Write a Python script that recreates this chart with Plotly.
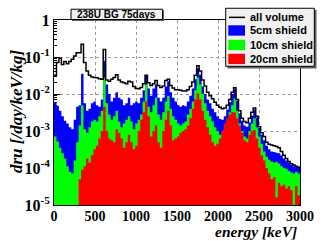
import plotly.graph_objects as go

# ---------------- data (30 keV bins, 0-3000 keV) ----------------
BIN_WIDTH = 30
energy_edges = [BIN_WIDTH * i for i in range(101)]

all_volume = [
    3.2e-2, 7.1e-2, 9.3e-2, 6.3e-2, 7.6e-2, 6.6e-2, 7.6e-2, 8.7e-2, 1.07e-1, 1.3e-1,
    1.3e-1, 2.2e-1, 7.1e-2, 4.2e-2, 3.2e-2, 2.9e-2, 2.8e-2, 2.75e-2, 2.6e-2, 2.5e-2,
    1.6e-1, 2.4e-2, 2.2e-2, 2.5e-2, 2.8e-2, 3.3e-2, 2.4e-2, 2.1e-2, 2.0e-2, 1.9e-2,
    2.2e-2, 2.1e-2, 1.6e-2, 1.4e-2, 1.38e-2, 1.5e-2, 1.9e-2, 3.2e-2, 2.0e-2, 1.7e-2,
    1.9e-2, 2.3e-2, 1.7e-2, 1.5e-2, 1.65e-2, 2.3e-2, 2.5e-2, 1.7e-2, 1.45e-2, 1.3e-2,
    1.3e-2, 1.26e-2, 1.2e-2, 1.2e-2, 1.3e-2, 1.6e-2, 2.1e-2, 3.2e-2, 5.8e-2, 4.2e-2,
    2.4e-2, 1.65e-2, 1.12e-2, 8.9e-3, 7.4e-3, 6.0e-3, 5.0e-3, 4.4e-3, 4.0e-3, 4.2e-3,
    5.0e-3, 7.1e-3, 1.12e-2, 1.48e-2, 7.1e-3, 3.5e-3, 2.2e-3, 1.8e-3, 1.66e-3, 2.2e-3,
    3.2e-3, 4.2e-3, 2.5e-3, 1.3e-3, 8.9e-4, 7.1e-4, 5.0e-4, 4.4e-4, 4.2e-4, 4.0e-4,
    3.8e-4, 3.5e-4, 2.8e-4, 2.2e-4, 1.8e-4, 1.5e-4, 1.3e-4, 1.2e-4, 1.12e-4, 1.05e-4,
]

shield_5cm = [
    6.0e-3, 4.8e-3, 3.5e-3, 2.5e-3, 1.9e-3, 1.6e-3, 1.26e-3, 1.12e-3, 2.0e-3, 4.5e-3,
    5.0e-3, 3.5e-2, 5.6e-3, 3.5e-3, 4.0e-3, 5.6e-3, 6.3e-3, 5.0e-3, 4.5e-3, 7.1e-3,
    7.9e-2, 1.8e-2, 1.0e-2, 6.3e-3, 7.9e-3, 1.12e-2, 7.9e-3, 7.1e-3, 5.0e-3, 5.6e-3,
    7.9e-3, 5.0e-3, 5.6e-3, 6.3e-3, 5.6e-3, 7.9e-3, 1.26e-2, 3.2e-2, 1.4e-2, 8.9e-3,
    1.4e-2, 1.8e-2, 7.9e-3, 6.3e-3, 7.9e-3, 1.6e-2, 2.2e-2, 1.12e-2, 7.9e-3, 6.3e-3,
    5.0e-3, 4.5e-3, 5.0e-3, 4.7e-3, 6.3e-3, 8.9e-3, 1.4e-2, 2.5e-2, 5.0e-2, 3.3e-2,
    1.6e-2, 1.0e-2, 7.1e-3, 5.6e-3, 4.0e-3, 3.2e-3, 2.5e-3, 2.1e-3, 2.0e-3, 2.5e-3,
    3.8e-3, 6.0e-3, 1.0e-2, 1.35e-2, 6.6e-3, 3.0e-3, 1.9e-3, 1.4e-3, 1.3e-3, 1.7e-3,
    2.6e-3, 3.8e-3, 2.3e-3, 1.2e-3, 7.9e-4, 5.6e-4, 4.0e-4, 3.2e-4, 2.8e-4, 2.7e-4,
    2.6e-4, 2.5e-4, 2.2e-4, 1.8e-4, 1.6e-4, 1.4e-4, 1.2e-4, 1.12e-4, 1.07e-4, 1.0e-4,
]

shield_10cm = [
    7.1e-4, 5.2e-4, 3.5e-4, 2.5e-4, 1.8e-4, 1.12e-4, 7.9e-5, 7.1e-5, 1.6e-4, 5.0e-4,
    1.4e-3, 5.0e-3, 1.12e-3, 8.9e-4, 1.26e-3, 1.8e-3, 2.0e-3, 1.8e-3, 2.5e-3, 3.5e-3,
    2.8e-2, 5.6e-3, 2.8e-3, 2.0e-3, 2.5e-3, 3.5e-3, 1.8e-3, 1.26e-3, 1.6e-3, 2.0e-3,
    2.5e-3, 1.8e-3, 1.12e-3, 1.6e-3, 2.0e-3, 2.8e-3, 6.3e-3, 1.8e-2, 4.5e-3, 3.2e-3,
    5.0e-3, 7.9e-3, 2.8e-3, 2.0e-3, 3.2e-3, 6.3e-3, 8.9e-3, 4.0e-3, 2.5e-3, 2.0e-3,
    1.6e-3, 1.4e-3, 1.6e-3, 1.8e-3, 2.8e-3, 4.0e-3, 6.3e-3, 1.26e-2, 2.8e-2, 1.8e-2,
    1.0e-2, 5.6e-3, 3.5e-3, 2.5e-3, 1.8e-3, 1.26e-3, 1.0e-3, 7.9e-4, 7.9e-4, 1.12e-3,
    1.8e-3, 3.2e-3, 5.0e-3, 7.6e-3, 3.5e-3, 1.6e-3, 1.0e-3, 7.1e-4, 6.3e-4, 1.0e-3,
    1.6e-3, 2.2e-3, 1.26e-3, 7.1e-4, 4.5e-4, 2.8e-4, 2.0e-4, 1.66e-4, 1.5e-4, 1.4e-4,
    1.48e-4, 1.32e-4, 1.12e-4, 1.0e-4, 9.5e-5, 8.3e-5, 7.6e-5, 7.1e-5, 7.9e-5, 7.1e-5,
]

shield_20cm = [
    0, 0, 0, 0, 0, 0, 0, 0, 0, 0,
    5.0e-5, 8.9e-5, 1.12e-4, 1.8e-4, 1.4e-4, 2.2e-4, 3.2e-4, 4.0e-4, 6.3e-4, 1.0e-3,
    4.5e-3, 1.0e-3, 6.3e-4, 5.6e-4, 5.0e-4, 1.12e-3, 8.9e-4, 6.3e-4, 3.5e-4, 5.0e-4,
    7.9e-4, 5.0e-4, 3.2e-4, 4.0e-4, 1.0e-3, 2.0e-3, 3.2e-3, 6.3e-3, 2.5e-3, 7.1e-4,
    1.0e-3, 1.4e-3, 5.0e-4, 3.5e-4, 1.0e-3, 2.0e-3, 3.5e-3, 1.4e-3, 5.6e-4, 6.3e-4,
    7.1e-4, 8.9e-4, 1.0e-3, 1.12e-3, 1.4e-3, 2.2e-3, 4.0e-3, 7.1e-3, 1.05e-2, 7.1e-3,
    3.5e-3, 2.0e-3, 1.26e-3, 7.9e-4, 5.0e-4, 4.0e-4, 4.5e-4, 6.3e-4, 1.0e-3, 1.6e-3,
    2.2e-3, 2.8e-3, 3.2e-3, 3.2e-3, 2.2e-3, 1.4e-3, 8.9e-4, 5.6e-4, 5.0e-4, 7.9e-4,
    1.0e-3, 1.07e-3, 6.3e-4, 3.5e-4, 2.2e-4, 1.6e-4, 1.0e-4, 7.1e-5, 5.0e-5, 5.6e-5,
    1.6e-5, 4.0e-5, 3.2e-5, 3.5e-5, 2.8e-5, 3.2e-5, 2.5e-5, 0, 3.2e-5, 1.8e-5,
]

y_tick_vals = [1e-5, 1e-4, 1e-3, 1e-2, 1e-1, 1]
y_tick_text = ["10<sup>-5</sup>", "10<sup>-4</sup>", "10<sup>-3</sup>",
               "10<sup>-2</sup>", "10<sup>-1</sup>", "1"]
x_tick_vals = [0, 500, 1000, 1500, 2000, 2500, 3000]

series = [
    ("5cm shield", shield_5cm, "#0000ff"),
    ("10cm shield", shield_10cm, "#00ff00"),
    ("20cm shield", shield_20cm, "#ff0000"),
]

FLOOR = 1e-7  # below the visible axis range, so the fill reaches the bottom


def step_polygon(edges, vals):
    xs, ys = [edges[0]], [FLOOR]
    for i, v in enumerate(vals):
        v = max(v, FLOOR)
        xs += [edges[i], edges[i + 1]]
        ys += [v, v]
    xs.append(edges[-1])
    ys.append(FLOOR)
    return xs, ys


fig = go.Figure()
for name, vals, color in series:
    xs, ys = step_polygon(energy_edges, vals)
    fig.add_trace(go.Scatter(x=xs, y=ys, mode="lines", fill="toself",
                             fillcolor=color, line=dict(width=0, color=color),
                             name=name, hoverinfo="skip"))

fig.add_trace(go.Scatter(x=energy_edges, y=all_volume + [all_volume[-1]],
                         mode="lines", line=dict(color="black", width=1.5, shape="hv"),
                         name="all volume"))

W, H = 327, 241
L, R, T, B = 54, 27, 16, 36
PW, PH = W - L - R, H - T - B


def px(x):
    return (x - L) / PW


def py(y):
    return (H - B - y) / PH


serif = "Liberation Serif, Times New Roman, serif"
sans = "Liberation Sans, Arial, sans-serif"

fig.update_layout(
    width=W, height=H, margin=dict(l=L, r=R, t=T, b=B),
    plot_bgcolor="white", paper_bgcolor="white", showlegend=False,
    xaxis=dict(range=[0, 3000], tickvals=x_tick_vals, ticks="inside", ticklen=6,
               tickcolor="black", showgrid=True, gridcolor="#9a9a9a", griddash="dot",
               gridwidth=1, showline=True, linecolor="black", linewidth=1, mirror=True,
               zeroline=False, layer="below traces", ticklabelstandoff=-2,
               tickfont=dict(family=serif, size=14, color="black", weight="bold"),
               minor=dict(ticks="inside", ticklen=3, dtick=100, tickcolor="black")),
    yaxis=dict(type="log", range=[-5, 0], tickvals=y_tick_vals, ticktext=y_tick_text,
               ticks="inside", ticklen=6, tickcolor="black", showgrid=True,
               gridcolor="#9a9a9a", griddash="dot", gridwidth=1, showline=True,
               linecolor="black", linewidth=1, mirror=True, zeroline=False,
               layer="below traces",
               tickfont=dict(family=serif, size=16, color="black", weight="bold"),
               minor=dict(ticks="inside", ticklen=3, dtick="D1", tickcolor="black",
                          showgrid=False)),
)

shapes = []
annotations = []

# title box with shadow
shapes.append(dict(type="rect", xref="paper", yref="paper", x0=px(72), x1=px(164),
                   y0=py(17), y1=py(6), fillcolor="#606060", line=dict(width=0)))
shapes.append(dict(type="rect", xref="paper", yref="paper", x0=px(71), x1=px(162.5),
                   y0=py(15.5), y1=py(5), fillcolor="#f0f0f0",
                   line=dict(color="black", width=1)))
annotations.append(dict(xref="paper", yref="paper", x=px(116.7), y=py(10.3),
                        text="238U BG 75days", showarrow=False, xanchor="center",
                        yanchor="middle",
                        font=dict(family=sans, size=10, color="black", weight="bold")))

# legend box with shadow
shapes.append(dict(type="rect", xref="paper", yref="paper", x0=px(227.5), x1=px(316.5),
                   y0=py(65.5), y1=py(5.5), fillcolor="#606060", line=dict(width=0)))
shapes.append(dict(type="rect", xref="paper", yref="paper", x0=px(225.7), x1=px(314.3),
                   y0=py(63.3), y1=py(4), fillcolor="#f0f0f0",
                   line=dict(color="black", width=1)))

legend_rows = [("all volume", None, 13.3), ("5cm shield", "#0000ff", 26.7),
               ("10cm shield", "#00ff00", 41.5), ("20cm shield", "#ff0000", 55.8)]
for label, color, yc in legend_rows:
    if color is None:
        shapes.append(dict(type="line", xref="paper", yref="paper", x0=px(229), x1=px(245),
                           y0=py(yc), y1=py(yc), line=dict(color="black", width=1.5)))
    else:
        shapes.append(dict(type="rect", xref="paper", yref="paper", x0=px(228.3), x1=px(245),
                           y0=py(yc + 5.3), y1=py(yc - 5.3), fillcolor=color,
                           line=dict(width=0)))
    annotations.append(dict(xref="paper", yref="paper", x=px(247.5), y=py(yc), text=label,
                            showarrow=False, xanchor="left", yanchor="middle",
                            font=dict(family=sans, size=11, color="black", weight="bold")))

# axis titles
annotations.append(dict(xref="paper", yref="paper", x=px(16), y=py(109), text="dru [/day/keV/kg]",
                        textangle=-90, showarrow=False, xanchor="center", yanchor="middle",
                        font=dict(family=serif, size=17, color="black", weight="bold",
                                  style="italic")))
annotations.append(dict(xref="paper", yref="paper", x=px(298.5), y=py(232.5), text="energy [keV]",
                        showarrow=False, xanchor="right", yanchor="middle",
                        font=dict(family=serif, size=15.5, color="black", weight="bold",
                                  style="italic")))

fig.update_layout(shapes=shapes, annotations=annotations)
fig.write_html("out.html", config={"displayModeBar": False},
               post_script="document.body.style.margin='0';document.body.style.padding='0';")
